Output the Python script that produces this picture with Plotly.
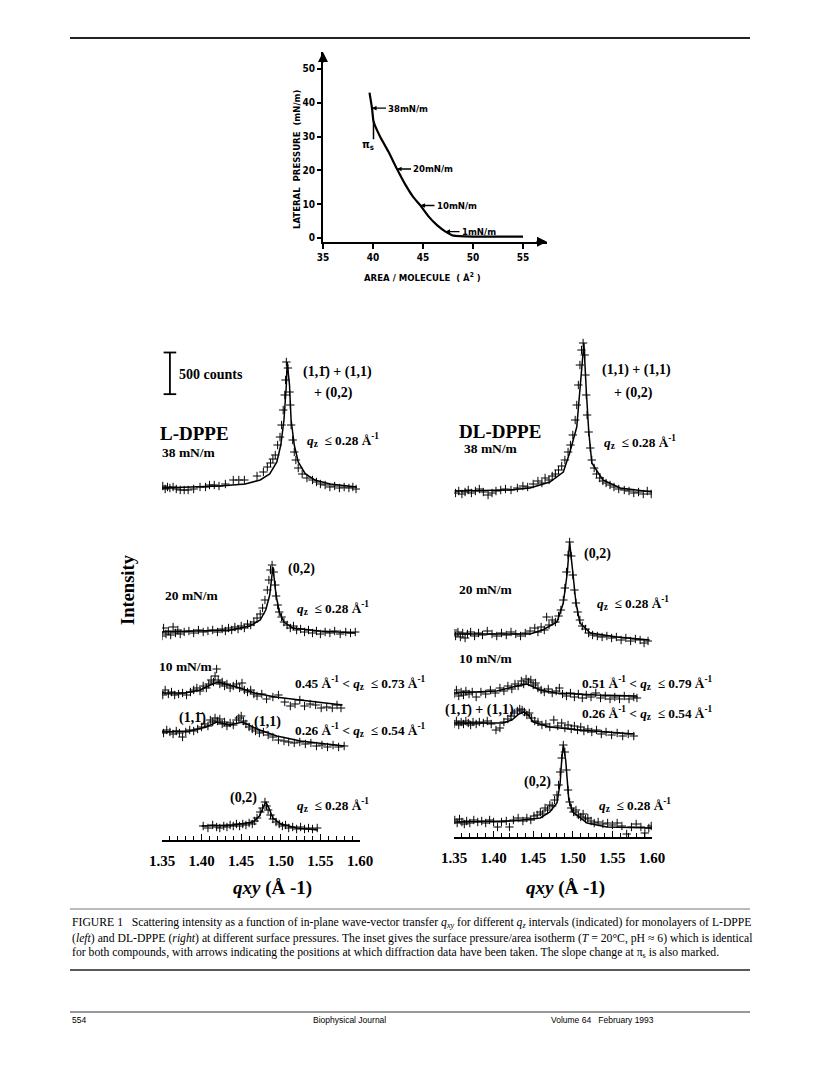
import numpy as np
import plotly.graph_objects as go

W, H = 816, 1069
SERIF = "Liberation Serif, Times New Roman, serif"
NARROW = "Liberation Sans Narrow, DejaVu Sans Condensed, Liberation Sans, sans-serif"
SANS = "Liberation Sans, Arial, sans-serif"

# ---- inset: pressure / area isotherm ----
iso_area = [39.65, 39.9, 40.05, 40.7, 41.55, 42.4, 43.25, 44.05, 44.75, 45.55, 46.4, 47.25, 48.05, 50.0, 55.0]
iso_pressure = [43.0, 38.4, 34.5, 30.0, 25.5, 20.4, 15.7, 12.0, 9.6, 6.4, 3.8, 1.9, 0.7, 0.4, 0.4]
arrow_area = [39.9, 42.4, 44.75, 47.25]
arrow_pressure = [38.4, 20.4, 9.6, 1.9]
arrow_labels = ["38mN/m", "20mN/m", "10mN/m", "1mN/m"]
pis_area = [40.05, 40.05]
pis_pressure = [34.5, 29.2]
area_ticks = [35, 40, 45, 50, 55]
pressure_ticks = [0, 10, 20, 30, 40, 50]

# ---- L-DPPE (left) ----
L38_fit_q = [1.347, 1.385, 1.423, 1.455, 1.474, 1.486, 1.495, 1.500, 1.504, 1.507, 1.508, 1.511, 1.513, 1.517, 1.522, 1.531, 1.543, 1.562, 1.596]
L38_fit_c = [24, 36, 48, 72, 120, 192, 336, 540, 840, 1260, 1536, 1260, 840, 540, 336, 192, 120, 72, 36]
L38_q = [1.348, 1.351, 1.354, 1.357, 1.360, 1.364, 1.368, 1.373, 1.378, 1.383, 1.390, 1.398, 1.405, 1.410, 1.416,
         1.422, 1.430, 1.440, 1.447, 1.454, 1.470, 1.478, 1.483, 1.487, 1.490, 1.493, 1.496, 1.499, 1.501, 1.503,
         1.505, 1.506, 1.507, 1.509, 1.511, 1.512, 1.513, 1.515, 1.517, 1.519, 1.522, 1.527, 1.533, 1.540, 1.545,
         1.550, 1.556, 1.562, 1.568, 1.574, 1.580, 1.586, 1.591, 1.595]
L38_c = [24, 48, 12, 36, 24, 36, 12, 0, 0, 0, 12, 36, 36, 60, 60,
         48, 72, 120, 120, 120, 168, 216, 276, 324, 372, 420, 540, 636, 780, 960,
         1140, 1320, 1536, 1464, 1176, 1020, 780, 600, 456, 360, 264, 192, 144, 120, 96,
         72, 60, 36, 48, 24, 36, 24, 36, 12]

L20_fit_q = [1.347, 1.398, 1.436, 1.461, 1.474, 1.481, 1.486, 1.490, 1.494, 1.498, 1.504, 1.515, 1.549, 1.594]
L20_fit_c = [0, 12, 24, 72, 144, 264, 444, 780, 444, 240, 120, 48, 12, -12]
L20_q = [1.347, 1.350, 1.352, 1.355, 1.358, 1.361, 1.364, 1.367, 1.370, 1.373, 1.378, 1.384, 1.390, 1.396, 1.402,
         1.408, 1.414, 1.420, 1.426, 1.430, 1.434, 1.438, 1.442, 1.446, 1.450, 1.454, 1.458, 1.462, 1.466, 1.470,
         1.474, 1.477, 1.480, 1.483, 1.485, 1.487, 1.489, 1.491, 1.493, 1.494, 1.496, 1.498, 1.501, 1.504, 1.508,
         1.512, 1.516, 1.520, 1.525, 1.530, 1.535, 1.540, 1.545, 1.550, 1.556, 1.562, 1.568, 1.575, 1.582, 1.588, 1.594]
L20_c = [0, -48, 48, -24, 12, -36, 60, -12, 24, -24, 0, 12, -12, 24, 0,
         12, 24, 0, 36, 12, 48, 24, 60, 36, 72, 48, 96, 84, 120, 168,
         216, 288, 384, 504, 624, 744, 804, 720, 564, 432, 324, 240, 180, 120, 84,
         48, 72, 24, 36, 0, 24, -12, 12, -24, 0, -12, 12, -24, 0, -12, 0]

L10_fit_q = [1.350, 1.379, 1.398, 1.411, 1.421, 1.431, 1.448, 1.467, 1.493, 1.524, 1.549, 1.578]
L10_fit_c = [84, 84, 120, 180, 216, 192, 144, 84, 36, 0, -24, -60]
L10_q = [1.348, 1.351, 1.354, 1.358, 1.362, 1.366, 1.371, 1.376, 1.381, 1.386, 1.390, 1.394, 1.398, 1.402, 1.406,
         1.409, 1.412, 1.415, 1.417, 1.419, 1.421, 1.423, 1.426, 1.429, 1.432, 1.436, 1.440, 1.444, 1.448, 1.451,
         1.454, 1.458, 1.462, 1.466, 1.470, 1.476, 1.482, 1.490, 1.497, 1.505, 1.512, 1.518, 1.524, 1.530, 1.537,
         1.544, 1.551, 1.558, 1.565, 1.571, 1.576]
L10_c = [96, 60, 120, 72, 96, 60, 72, 84, 60, 96, 120, 144, 108, 168, 144,
         192, 240, 216, 288, 372, 240, 192, 216, 168, 192, 144, 168, 192, 144, 204,
         120, 96, 120, 72, 48, 72, 12, 36, 60, -24, -72, -48, 0, -72, -48,
         -60, -96, -84, -96, -60, -96]

L11_fit_q = [1.347, 1.385, 1.406, 1.419, 1.435, 1.452, 1.470, 1.495, 1.525, 1.555, 1.580]
L11_fit_c = [96, 108, 156, 216, 180, 216, 132, 48, -12, -48, -72]
L11_q = [1.348, 1.352, 1.356, 1.360, 1.364, 1.368, 1.372, 1.376, 1.380, 1.385, 1.390, 1.395, 1.400, 1.404, 1.408,
         1.411, 1.414, 1.417, 1.420, 1.423, 1.426, 1.429, 1.432, 1.436, 1.440, 1.444, 1.447, 1.450, 1.453, 1.456,
         1.460, 1.464, 1.468, 1.473, 1.478, 1.484, 1.490, 1.497, 1.504, 1.510, 1.517, 1.524, 1.531, 1.538, 1.545,
         1.552, 1.559, 1.566, 1.573, 1.580]
L11_c = [108, 84, 120, 96, 72, 108, 84, 36, 96, 120, 108, 132, 156, 192, 168,
         240, 216, 264, 228, 252, 192, 216, 168, 204, 180, 240, 264, 288, 228, 192,
         156, 132, 108, 84, 96, 60, 36, 0, -12, -24, -36, -24, -48, -36, -72,
         -60, -84, -60, -84, -72]

L02_fit_q = [1.400, 1.440, 1.465, 1.473, 1.478, 1.481, 1.485, 1.490, 1.500, 1.520, 1.547]
L02_fit_c = [48, 60, 96, 168, 276, 336, 264, 144, 72, 24, 0]
L02_q = [1.402, 1.408, 1.414, 1.419, 1.423, 1.428, 1.432, 1.436, 1.440, 1.444, 1.448, 1.452, 1.456, 1.460, 1.464,
         1.467, 1.470, 1.474, 1.477, 1.480, 1.482, 1.484, 1.487, 1.490, 1.494, 1.498, 1.502, 1.506, 1.510, 1.515,
         1.520, 1.525, 1.530, 1.535, 1.540, 1.546]
L02_c = [48, 24, 60, 36, 24, 48, 36, 60, 48, 72, 48, 72, 60, 84, 72,
         108, 144, 216, 264, 336, 288, 240, 180, 132, 96, 72, 48, 60, 24, 36,
         12, 36, 12, 24, 12, 24]

# ---- DL-DPPE (right) ----
DL38_fit_q = [1.351, 1.420, 1.446, 1.471, 1.488, 1.496, 1.505, 1.509, 1.514, 1.517, 1.520, 1.524, 1.538, 1.560, 1.600]
DL38_fit_c = [48, 60, 84, 156, 276, 504, 816, 1260, 1824, 1260, 780, 384, 180, 84, 36]
DL38_q = [1.352, 1.356, 1.360, 1.364, 1.368, 1.372, 1.377, 1.382, 1.387, 1.393, 1.398, 1.403, 1.409, 1.415, 1.422,
          1.430, 1.437, 1.443, 1.450, 1.456, 1.461, 1.465, 1.470, 1.474, 1.478, 1.482, 1.486, 1.490, 1.494, 1.497,
          1.500, 1.503, 1.505, 1.507, 1.509, 1.511, 1.513, 1.515, 1.516, 1.517, 1.518, 1.520, 1.522, 1.524, 1.527,
          1.530, 1.534, 1.538, 1.542, 1.547, 1.552, 1.558, 1.565, 1.571, 1.577, 1.583, 1.589, 1.594, 1.599]
DL38_c = [24, 48, 12, 36, 60, 24, 48, 72, 36, 0, 24, 48, 60, 72, 60,
          84, 108, 96, 132, 168, 144, 204, 180, 228, 252, 300, 348, 420, 516, 600,
          720, 900, 1080, 1320, 1560, 1740, 1824, 1680, 1440, 1200, 960, 756, 564, 420, 324,
          252, 204, 168, 144, 120, 96, 72, 60, 48, 24, 36, 12, 48, 12]

DL20_fit_q = [1.349, 1.446, 1.462, 1.480, 1.488, 1.493, 1.496, 1.500, 1.504, 1.509, 1.522, 1.556, 1.597]
DL20_fit_c = [24, 24, 72, 168, 396, 756, 1128, 756, 396, 156, 36, -12, -48]
DL20_q = [1.349, 1.352, 1.355, 1.358, 1.361, 1.364, 1.367, 1.371, 1.376, 1.381, 1.386, 1.392, 1.398, 1.404, 1.410,
          1.416, 1.422, 1.428, 1.434, 1.440, 1.446, 1.452, 1.456, 1.460, 1.464, 1.467, 1.470, 1.474, 1.478, 1.482,
          1.485, 1.488, 1.490, 1.492, 1.494, 1.496, 1.498, 1.500, 1.502, 1.504, 1.506, 1.509, 1.512, 1.516, 1.520,
          1.525, 1.531, 1.537, 1.543, 1.549, 1.555, 1.561, 1.567, 1.573, 1.579, 1.585, 1.590, 1.595]
DL20_c = [72, 0, 48, -12, 36, -24, 24, 48, 0, 36, 12, 60, 24, 0, 36,
          12, 48, 24, 0, 36, 60, 96, 48, 108, 72, 228, 132, 192, 168, 240,
          312, 432, 576, 768, 972, 1128, 960, 732, 552, 396, 288, 192, 120, 84, 36,
          12, 0, -12, 0, -24, -12, -48, -24, -60, -36, -48, -84, -60]

DL10_fit_q = [1.349, 1.404, 1.424, 1.442, 1.459, 1.480, 1.530, 1.581]
DL10_fit_c = [24, 48, 96, 132, 60, 24, 0, -12]
DL10_q = [1.350, 1.353, 1.356, 1.359, 1.362, 1.365, 1.369, 1.373, 1.378, 1.384, 1.390, 1.396, 1.402, 1.408, 1.413,
          1.418, 1.423, 1.427, 1.431, 1.435, 1.438, 1.441, 1.444, 1.447, 1.450, 1.453, 1.456, 1.460, 1.464, 1.469,
          1.474, 1.479, 1.483, 1.487, 1.492, 1.497, 1.502, 1.507, 1.512, 1.517, 1.523, 1.529, 1.535, 1.541, 1.547,
          1.553, 1.559, 1.565, 1.571, 1.577, 1.581]
DL10_c = [12, 60, -12, 36, 0, 48, 12, 36, -24, 36, 12, 60, 24, 84, 48,
          108, 72, 132, 108, 168, 132, 192, 156, 180, 120, 144, 84, 60, 36, 72,
          24, 48, 84, 12, -12, 24, -24, 12, -36, 0, -24, 24, -36, -12, -48,
          -24, -48, -12, -48, -24, -36]

DL11_fit_q = [1.349, 1.412, 1.423, 1.432, 1.438, 1.444, 1.450, 1.471, 1.509, 1.578]
DL11_fit_c = [48, 48, 84, 156, 180, 144, 60, 0, -36, -84]
DL11_q = [1.350, 1.353, 1.356, 1.359, 1.362, 1.365, 1.368, 1.371, 1.374, 1.378, 1.382, 1.387, 1.392, 1.397, 1.403,
          1.408, 1.413, 1.418, 1.422, 1.426, 1.430, 1.433, 1.436, 1.439, 1.442, 1.445, 1.448, 1.452, 1.456, 1.461,
          1.466, 1.471, 1.476, 1.481, 1.486, 1.490, 1.494, 1.498, 1.502, 1.506, 1.510, 1.514, 1.519, 1.524, 1.530,
          1.536, 1.542, 1.549, 1.556, 1.563, 1.570, 1.577]
DL11_c = [36, 72, 24, 60, 36, 72, 48, 24, 60, 36, 60, 48, 72, 36, -36,
          -12, 60, 96, 132, 168, 192, 216, 204, 180, 144, 168, 108, 72, 60, 24,
          36, 0, 84, 12, 48, -12, 24, -24, 12, -36, 0, -48, -24, -60, -36,
          -84, -60, -96, -72, -108, -84, -108]

DL02_fit_q = [1.351, 1.424, 1.459, 1.471, 1.480, 1.484, 1.486, 1.488, 1.491, 1.493, 1.495, 1.500, 1.518, 1.543, 1.600]
DL02_fit_c = [60, 72, 108, 180, 288, 528, 804, 984, 804, 528, 324, 180, 48, 0, -12]
DL02_q = [1.351, 1.354, 1.357, 1.360, 1.363, 1.366, 1.370, 1.375, 1.380, 1.385, 1.390, 1.395, 1.400, 1.405, 1.410,
          1.416, 1.420, 1.425, 1.431, 1.437, 1.442, 1.447, 1.451, 1.455, 1.459, 1.462, 1.465, 1.468, 1.471, 1.474,
          1.477, 1.480, 1.482, 1.484, 1.486, 1.488, 1.490, 1.492, 1.494, 1.496, 1.498, 1.501, 1.504, 1.507, 1.510,
          1.513, 1.516, 1.519, 1.523, 1.527, 1.532, 1.538, 1.544, 1.550, 1.556, 1.562, 1.568, 1.574, 1.580, 1.586,
          1.591, 1.596, 1.599]
DL02_c = [84, 48, 96, 60, 36, 72, 48, 84, 60, 72, 48, 84, 60, 0, 60,
          72, 0, 84, 108, 72, 108, 84, 132, 144, 180, 156, 228, 204, 264, 252,
          324, 384, 504, 660, 828, 984, 900, 684, 444, 300, 228, 180, 204, 144, 120,
          156, 96, 108, 72, 48, 60, 36, 48, 24, 48, 12, -84, 0, 36, 0,
          -72, -12, 12]

# stacking offsets (counts) for each curve, top to bottom
left_offsets = [4200, 2496, 1680, 1200, 120]
right_offsets = [4104, 2412, 1704, 1320, 120]
scale_bar_counts = 500
scale_bar_base = 5350
scale_bar_q = 1.360
qxy_ticks = [1.35, 1.40, 1.45, 1.50, 1.55, 1.60]


def fx(x):
    return x / W


def fy(y):
    return 1 - y / H


fig = go.Figure()

# isotherm
fig.add_trace(go.Scatter(x=iso_area, y=iso_pressure, mode='lines', xaxis='x3', yaxis='y3',
                         line=dict(color='black', width=2.2, shape='spline', smoothing=0.4),
                         showlegend=False, hoverinfo='skip'))
fig.add_trace(go.Scatter(x=pis_area, y=pis_pressure, mode='lines', xaxis='x3', yaxis='y3',
                         line=dict(color='black', width=1.5), showlegend=False, hoverinfo='skip'))


def add_curve(q_fit, c_fit, q_pts, c_pts, offset, xa, ya):
    fig.add_trace(go.Scatter(x=q_fit, y=np.array(c_fit) + offset, mode='lines', xaxis=xa, yaxis=ya,
                             line=dict(color='black', width=1.5), showlegend=False, hoverinfo='skip'))
    fig.add_trace(go.Scatter(x=q_pts, y=np.array(c_pts) + offset, mode='markers', xaxis=xa, yaxis=ya,
                             marker=dict(symbol='cross-thin', size=6, line=dict(width=1, color='black')),
                             showlegend=False, hoverinfo='skip'))


left = [(L38_fit_q, L38_fit_c, L38_q, L38_c), (L20_fit_q, L20_fit_c, L20_q, L20_c),
        (L10_fit_q, L10_fit_c, L10_q, L10_c), (L11_fit_q, L11_fit_c, L11_q, L11_c),
        (L02_fit_q, L02_fit_c, L02_q, L02_c)]
right = [(DL38_fit_q, DL38_fit_c, DL38_q, DL38_c), (DL20_fit_q, DL20_fit_c, DL20_q, DL20_c),
         (DL10_fit_q, DL10_fit_c, DL10_q, DL10_c), (DL11_fit_q, DL11_fit_c, DL11_q, DL11_c),
         (DL02_fit_q, DL02_fit_c, DL02_q, DL02_c)]
for curve, off in zip(left, left_offsets):
    add_curve(*curve, off, 'x', 'y')
for curve, off in zip(right, right_offsets):
    add_curve(*curve, off, 'x2', 'y2')

# 500 counts scale bar
fig.add_trace(go.Scatter(x=[scale_bar_q, scale_bar_q], y=[scale_bar_base, scale_bar_base + scale_bar_counts],
                         mode='lines+markers', xaxis='x', yaxis='y',
                         line=dict(color='black', width=1.8),
                         marker=dict(symbol='line-ew', size=9, line=dict(width=1.8, color='black')),
                         showlegend=False, hoverinfo='skip'))

qaxis = dict(range=[1.35, 1.60], showgrid=False, zeroline=False, showline=True, linecolor='black', linewidth=1.5,
             tickvals=qxy_ticks, ticktext=[f"{v:.2f}" for v in qxy_ticks], ticks='inside', ticklen=6,
             tickwidth=1.2, tickcolor='black', ticklabelstandoff=6, automargin=False,
             minor=dict(dtick=0.01, tick0=1.35, ticks='inside', ticklen=4, tickwidth=1.2, tickcolor='black'),
             tickfont=dict(family=SERIF, size=15, color='black', weight='bold'))
hidden_y = dict(range=[0, 6000], visible=False, showgrid=False, zeroline=False, automargin=False)

fig.update_layout(
    width=W, height=H, autosize=False, margin=dict(l=0, r=0, t=0, b=0, pad=0, autoexpand=False),
    paper_bgcolor='white', plot_bgcolor='rgba(0,0,0,0)',
    xaxis=dict(qaxis, domain=[fx(162), fx(360)], anchor='y'),
    yaxis=dict(hidden_y, domain=[fy(840), fy(340)], anchor='x'),
    xaxis2=dict(qaxis, domain=[fx(454), fx(652)], anchor='y2'),
    yaxis2=dict(hidden_y, domain=[fy(837), fy(337)], anchor='x2'),
    xaxis3=dict(domain=[fx(323), fx(547)], anchor='y3', range=[35, 57.4], showgrid=False, zeroline=False,
                showline=True, linecolor='black', linewidth=2, tickvals=area_ticks, ticks='outside',
                ticklen=5, tickwidth=1.5, tickcolor='black', automargin=False,
                tickfont=dict(family=NARROW, size=10, color='black', weight='bold')),
    yaxis3=dict(domain=[fy(241.7), fy(52)], anchor='x3', range=[-1.1, 55], showgrid=False, zeroline=False,
                showline=True, linecolor='black', linewidth=2, tickvals=pressure_ticks, ticks='outside',
                ticklen=4, tickwidth=1.5, tickcolor='black', automargin=False,
                tickfont=dict(family=NARROW, size=10, color='black', weight='bold')),
    showlegend=False,
)


def txt(s, x, y, size=14, family=SERIF, weight='bold', xanchor='center', angle=0):
    return dict(text=s, x=fx(x), y=fy(y), xref='paper', yref='paper', showarrow=False,
                xanchor=xanchor, yanchor='middle', textangle=angle,
                font=dict(family=family, size=size, color='black', weight=weight))


QZ = "<i>q</i><sub>z</sub>  ≤ 0.28 Å<sup>-1</sup>"
QZS = 13.3
ann = []
# inset labels and arrows
for a, p, lab in zip(arrow_area, arrow_pressure, arrow_labels):
    ann.append(dict(x=a, y=p, xref='x3', yref='y3', text=lab, showarrow=True, ax=14, ay=0,
                    arrowhead=2, arrowsize=0.7, arrowwidth=1.3, arrowcolor='black', xanchor='left',
                    font=dict(family=NARROW, size=9.5, color='black', weight='bold')))
ann.append(dict(x=57.4, y=-1.1, xref='x3', yref='y3', text='', showarrow=True, ax=-12, ay=0,
                arrowhead=2, arrowsize=1, arrowwidth=2, arrowcolor='black'))
ann.append(dict(x=35, y=55, xref='x3', yref='y3', text='', showarrow=True, ax=0, ay=12,
                arrowhead=2, arrowsize=1, arrowwidth=2, arrowcolor='black'))
ann.append(txt("π<sub>s</sub>", 368, 145, size=11, family=NARROW))
ann.append(txt("LATERAL  PRESSURE  (mN/m)", 296, 160, size=9.5, family=NARROW, angle=-90))
ann.append(txt("AREA / MOLECULE  ( Å<sup>2</sup> )", 422, 277, size=9.5, family=NARROW))

# left panel
ann += [
    txt("500 counts", 177, 374, size=14, xanchor='left'),
    txt("(1,1\u0304) + (1,1)", 337, 372, size=14),
    txt("+ (0,2)", 333, 393, size=14),
    txt("L-DPPE", 158, 433, size=19, xanchor='left'),
    txt("38 mN/m", 160, 452, size=13.5, xanchor='left'),
    txt(QZ, 305, 440, size=QZS, xanchor='left'),
    txt("Intensity", 128, 590, size=18.5, angle=-90),
    txt("(0,2)", 301, 569, size=14),
    txt("20 mN/m", 163, 595, size=13.5, xanchor='left'),
    txt(QZ, 295, 608, size=QZS, xanchor='left'),
    txt("10 mN/m", 157, 666, size=13.5, xanchor='left'),
    txt("0.45 Å<sup>-1</sup> < <i>q</i><sub>z</sub>  ≤ 0.73 Å<sup>-1</sup>", 293, 683, size=QZS, xanchor='left'),
    txt("(1,1\u0304)", 192, 718, size=14),
    txt("(1,1)", 267, 722, size=14),
    txt("0.26 Å<sup>-1</sup> < <i>q</i><sub>z</sub>  ≤ 0.54 Å<sup>-1</sup>", 293, 730, size=QZS, xanchor='left'),
    txt("(0,2)", 243, 798, size=14),
    txt(QZ, 295, 805, size=QZS, xanchor='left'),
    txt("<i>qxy</i> (Å -1)", 272, 888, size=19),
]
# right panel
ann += [
    txt("(1,1) + (1,1)", 636, 370, size=14),
    txt("+ (0,2)", 633, 393, size=14),
    txt("DL-DPPE", 457, 431, size=19, xanchor='left'),
    txt("38 mN/m", 462, 448, size=13.5, xanchor='left'),
    txt(QZ, 602, 442, size=QZS, xanchor='left'),
    txt("(0,2)", 597, 554, size=14),
    txt("20 mN/m", 457, 589, size=13.5, xanchor='left'),
    txt(QZ, 595, 603, size=QZS, xanchor='left'),
    txt("10 mN/m", 457, 658, size=13.5, xanchor='left'),
    txt("0.51 Å<sup>-1</sup> < <i>q</i><sub>z</sub>  ≤ 0.79 Å<sup>-1</sup>", 580, 683, size=QZS, xanchor='left'),
    txt("(1,1\u0304) + (1,1)", 479, 710, size=14),
    txt("0.26 Å<sup>-1</sup> < <i>q</i><sub>z</sub>  ≤ 0.54 Å<sup>-1</sup>", 580, 713, size=QZS, xanchor='left'),
    txt("(0,2)", 537, 782, size=14),
    txt(QZ, 597, 805, size=QZS, xanchor='left'),
    txt("<i>qxy</i> (Å -1)", 565, 888, size=19),
]

# caption and footer
cap = [
    "FIGURE 1   Scattering intensity as a function of in-plane wave-vector transfer <i>q</i><sub><i>xy</i></sub> "
    "for different <i>q</i><sub><i>z</i></sub> intervals (indicated) for monolayers of L-DPPE",
    "(<i>left</i>) and DL-DPPE (<i>right</i>) at different surface pressures. The inset gives the surface "
    "pressure/area isotherm (<i>T</i> = 20°C, pH ≈ 6) which is identical",
    "for both compounds, with arrows indicating the positions at which diffraction data have been taken. "
    "The slope change at π<sub>s</sub> is also marked.",
]
for line, y in zip(cap, [923, 938, 953]):
    ann.append(txt(line, 70, y, size=11.7, weight='normal', xanchor='left'))
ann.append(txt("554", 70, 1020, size=8.5, family=SANS, weight='normal', xanchor='left'))
ann.append(txt("Biophysical Journal", 349, 1020, size=8.5, family=SANS, weight='normal'))
ann.append(txt("Volume 64   February 1993", 549, 1020, size=8.5, family=SANS, weight='normal', xanchor='left'))
fig.update_layout(annotations=ann)

shapes = [
    dict(type='line', xref='paper', yref='paper', x0=fx(70), x1=fx(750), y0=fy(38), y1=fy(38),
         line=dict(color='#222', width=2)),
    dict(type='line', xref='paper', yref='paper', x0=fx(70), x1=fx(750), y0=fy(909), y1=fy(909),
         line=dict(color='#777', width=1)),
    dict(type='line', xref='paper', yref='paper', x0=fx(70), x1=fx(750), y0=fy(970), y1=fy(970),
         line=dict(color='#222', width=1.5)),
    dict(type='line', xref='paper', yref='paper', x0=fx(70), x1=fx(750), y0=fy(1012), y1=fy(1012),
         line=dict(color='#333', width=1.2)),
]
fig.update_layout(shapes=shapes)

# page body has a default 8px margin; remove it so the 816x1069 figure fills the window exactly
fig.write_html("out.html", config={'responsive': False, 'displayModeBar': False},
               post_script="document.body.style.margin='0';document.body.style.overflow='hidden';"
                           "Plotly.relayout(document.getElementById('{plot_id}'), {width: 816, height: 1069});")
